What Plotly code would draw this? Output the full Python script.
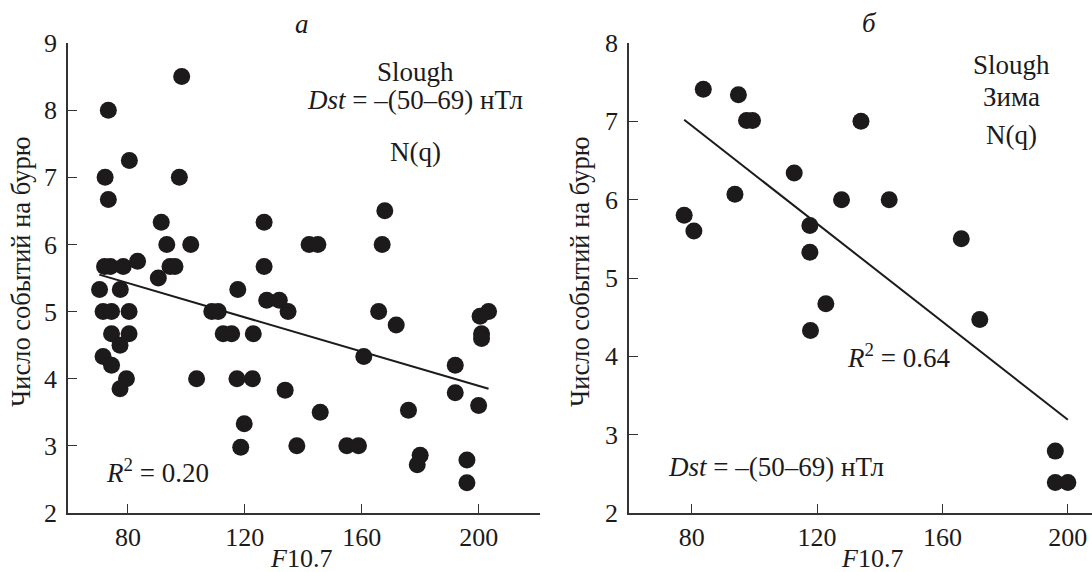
import plotly.graph_objects as go

# Panel "а": Slough, Dst = -(50-69) nT, all seasons
f107_a = [73.3, 98.4, 80.5, 72.2, 97.6, 73.3, 91.4, 93.3, 101.5, 126.6,
          72.0, 74.0, 78.4, 83.3, 94.4, 96.1, 90.4, 126.6, 70.3, 77.4,
          117.6, 71.5, 74.4, 80.4, 108.7, 110.9, 74.4, 80.4, 77.3, 112.6,
          115.5, 122.9, 71.5, 74.4, 79.5, 77.3, 103.5, 117.3, 122.6, 119.8,
          118.6, 133.8, 127.5, 131.8, 134.8, 142.0, 145.0, 167.0, 167.9, 165.8,
          171.8, 160.7, 145.8, 137.8, 154.9, 158.9, 176.0, 180.0, 179.0, 192.0,
          192.0, 196.0, 196.0, 200.0, 200.5, 203.4, 201.0, 201.0]
events_a = [8.0, 8.5, 7.25, 7.0, 7.0, 6.67, 6.33, 6.0, 6.0, 6.33,
            5.67, 5.67, 5.67, 5.75, 5.67, 5.67, 5.5, 5.67, 5.33, 5.33,
            5.33, 5.0, 5.0, 5.0, 5.0, 5.0, 4.67, 4.67, 4.5, 4.67,
            4.67, 4.67, 4.33, 4.2, 4.0, 3.85, 4.0, 4.0, 4.0, 3.33,
            2.98, 3.83, 5.17, 5.17, 5.0, 6.0, 6.0, 6.0, 6.5, 5.0,
            4.8, 4.33, 3.5, 3.0, 3.0, 3.0, 3.53, 2.86, 2.72, 4.2,
            3.79, 2.79, 2.45, 3.6, 4.93, 5.0, 4.67, 4.6]
trend_a_x = [70.2, 203.4]
trend_a_y = [5.55, 3.85]

# Panel "б": Slough, winter
f107_b = [83.7, 94.9, 97.5, 99.4, 112.7, 93.8, 77.6, 80.7, 127.8, 117.7,
          117.7, 122.8, 117.9, 134.0, 143.0, 166.0, 171.9, 196.0, 196.0, 200.0]
events_b = [7.41, 7.34, 7.01, 7.01, 6.34, 6.07, 5.80, 5.60, 6.0, 5.67,
            5.33, 4.67, 4.33, 7.0, 6.0, 5.5, 4.47, 2.79, 2.39, 2.39]
trend_b_x = [77.6, 200.0]
trend_b_y = [7.02, 3.19]

x_ticks = [80, 120, 160, 200]
y_ticks_a = [2, 3, 4, 5, 6, 7, 8, 9]
y_ticks_b = [2, 3, 4, 5, 6, 7, 8]

SERIF = "Liberation Serif"
INK = "#1c1a1b"
W, H = 1092, 572

fig = go.Figure()
marker = dict(size=17, color=INK, line=dict(width=0))
fig.add_trace(go.Scatter(x=f107_a, y=events_a, mode="markers", marker=marker,
                         xaxis="x", yaxis="y", showlegend=False))
fig.add_trace(go.Scatter(x=trend_a_x, y=trend_a_y, mode="lines",
                         line=dict(color=INK, width=2), xaxis="x", yaxis="y",
                         showlegend=False))
fig.add_trace(go.Scatter(x=f107_b, y=events_b, mode="markers", marker=marker,
                         xaxis="x2", yaxis="y2", showlegend=False))
fig.add_trace(go.Scatter(x=trend_b_x, y=trend_b_y, mode="lines",
                         line=dict(color=INK, width=2), xaxis="x2", yaxis="y2",
                         showlegend=False))

ydom = [1 - 513 / H, 1 - 43 / H]
axis_common = dict(showgrid=False, zeroline=False, showline=True,
                   linecolor="#333333", linewidth=1.6, ticks="inside",
                   ticklen=9, tickwidth=1.4, tickcolor="#333333",
                   automargin=False,
                   tickfont=dict(family=SERIF, size=26, color=INK))

fig.update_layout(
    width=W, height=H,
    margin=dict(l=0, r=0, t=0, b=0, autoexpand=False),
    paper_bgcolor="white", plot_bgcolor="white",
    font=dict(family=SERIF, color=INK),
    xaxis=dict(domain=[68 / W, 540 / W], range=[59.5, 221], tickvals=x_ticks,
               anchor="y", ticklabelstandoff=0, **axis_common),
    yaxis=dict(domain=ydom, range=[2, 9], tickvals=y_ticks_a, anchor="x",
               ticklabelstandoff=4, **axis_common),
    xaxis2=dict(domain=[629 / W, 1.0], range=[60, 207.7], tickvals=x_ticks,
                anchor="y2", ticklabelstandoff=0, **axis_common),
    yaxis2=dict(domain=ydom, range=[2, 8], tickvals=y_ticks_b, anchor="x2",
                ticklabelstandoff=4, **axis_common),
)

def note(text, x, y, xref, yref, size=27, **kw):
    fig.add_annotation(text=text, x=x, y=y, xref=xref, yref=yref,
                       xanchor="center", yanchor="middle", showarrow=False,
                       font=dict(family=SERIF, size=size, color=INK), **kw)

# vertical pixel position -> paper fraction
def py(pix):
    return 1 - pix / H

# panel "а" labels
note("<i>а</i>", 139.5, py(24), "x", "paper")
note("Slough", 178.3, 8.57, "x", "y")
note("<i>Dst</i> = –(50–69) нТл", 178.3, 8.15, "x", "y")
note("N(q)", 178.3, 7.38, "x", "y")
note("<i>R</i><sup>2</sup> = 0.20", 90.1, 2.63, "x", "y")
note("<i>F</i>10.7", 139.2, py(558), "x", "paper", size=26)
note("Число событий на бурю", 21 / W, py(272), "paper", "paper", size=26.5,
     textangle=-90)

# panel "б" labels
note("<i>б</i>", 136.8, py(23), "x2", "paper")
note("Slough", 182.0, 7.72, "x2", "y2")
note("Зима", 182.0, 7.31, "x2", "y2")
note("N(q)", 182.0, 6.82, "x2", "y2")
note("<i>R</i><sup>2</sup> = 0.64", 145.9, 4.01, "x2", "y2")
note("<i>Dst</i> = –(50–69) нТл", 106.8, 2.59, "x2", "y2")
note("<i>F</i>10.7", 137.4, py(558), "x2", "paper", size=26)
note("Число событий на бурю", 580 / W, py(272), "paper", "paper", size=26.5,
     textangle=-90)

fig.write_html("out.html")
